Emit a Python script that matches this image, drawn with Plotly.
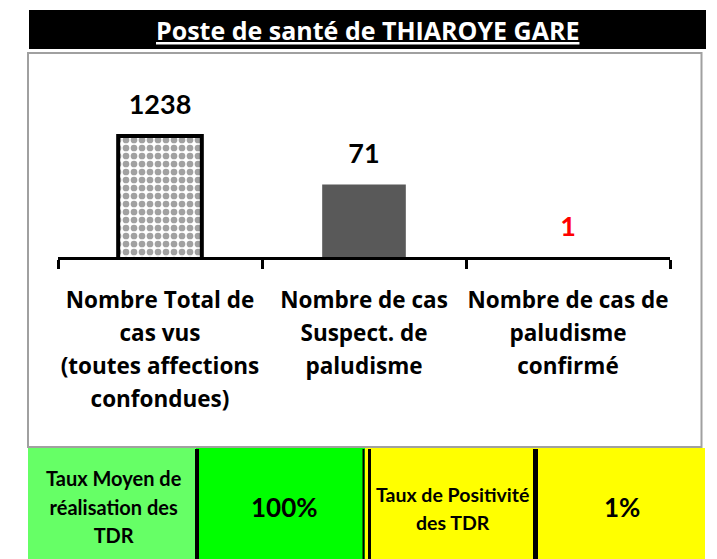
import plotly.graph_objects as go

W, H = 717, 559
FONT = "Open Sans"
FONT2 = "Lato"

# ---- data ----
title_text = "Poste de santé de THIAROYE GARE"
category_keys = ["total", "suspect", "confirme"]
category_lines = [
    ["Nombre Total de", "cas vus", "(toutes affections", "confondues)"],
    ["Nombre de cas", "Suspect. de", "paludisme"],
    ["Nombre de cas de", "paludisme", "confirmé"],
]
values = [1238, 71, 1]
value_colors = ["black", "black", "red"]
bar_colors = ["white", "#595959", "#595959"]
bar_patterns = [".", "", ""]
bar_line_widths = [4, 0, 0]

rate_labels = [["Taux Moyen de", "réalisation des", "TDR"], ["Taux de Positivité", "des TDR"]]
rate_values = ["100%", "1%"]


def px(x):
    return x / W


def py(y):
    return 1 - y / H


def spaced(lines, inner):
    return "<br>".join(f'<span style="font-size:{inner}px">{l}</span>' for l in lines)


ticktext = [spaced(lines, 22.5) for lines in category_lines]

fig = go.Figure()
fig.add_trace(go.Bar(
    x=category_keys, y=values, width=0.41,
    marker=dict(color=bar_colors,
                line=dict(color="black", width=bar_line_widths),
                pattern=dict(shape=bar_patterns, fgcolor="black", bgcolor="white",
                             size=8, solidity=0.55)),
    hoverinfo="skip",
))
fig.add_trace(go.Scatter(
    x=category_keys, y=values, mode="markers+text",
    text=[str(v) for v in values], textposition="top center",
    marker=dict(size=22, opacity=0),
    textfont=dict(family=FONT2, size=27, color=value_colors, weight="bold"),
    cliponaxis=False, hoverinfo="skip",
))

shapes = []
# title bar
shapes.append(dict(type="rect", xref="paper", yref="paper", x0=px(29), x1=px(706),
                   y0=py(49), y1=py(10), fillcolor="black", line=dict(width=0), layer="below"))
# plot box
shapes.append(dict(type="rect", xref="paper", yref="paper", x0=px(28), x1=px(701.5),
                   y0=py(447), y1=py(53), fillcolor="rgba(0,0,0,0)",
                   line=dict(color="#a0a0a0", width=2)))
# table cells
cells = [(28, 196, "#66FF66"), (196, 365, "#00FF00"), (365, 535, "#FFFF00"), (535, 705, "#FFFF00")]
for x0, x1, c in cells:
    shapes.append(dict(type="rect", xref="paper", yref="paper", x0=px(x0), x1=px(x1),
                       y0=py(559), y1=py(448), fillcolor=c, line=dict(width=0), layer="below"))
for xl, w in [(197, 4), (363.5, 2), (369.5, 3), (535.5, 5)]:
    shapes.append(dict(type="line", xref="paper", yref="paper", x0=px(xl), x1=px(xl),
                       y0=py(559), y1=py(449), line=dict(color="black", width=w)))


def ann(text, x, y, size, color="black", family=FONT2):
    return dict(text=text, xref="paper", yref="paper", x=px(x), y=py(y),
                xanchor="center", yanchor="middle", align="center", showarrow=False,
                font=dict(family=family, size=size, color=color))


annotations = [
    ann(f"<b><u>{title_text}</u></b>", 367.5, 30, 25, "white", FONT),
    ann("<b>" + spaced(rate_labels[0], 20) + "</b>", 114, 507, 22),
    ann(f"<b>{rate_values[0]}</b>", 284, 507, 26),
    ann("<b>" + spaced(rate_labels[1], 19.5) + "</b>", 452, 508, 21.5),
    ann(f"<b>{rate_values[1]}</b>", 622, 507, 26),
]

fig.update_layout(
    width=W, height=H,
    margin=dict(l=0, r=0, t=0, b=0, autoexpand=False),
    paper_bgcolor="white", plot_bgcolor="rgba(0,0,0,0)",
    showlegend=False,
    shapes=shapes, annotations=annotations,
    xaxis=dict(domain=[px(58), px(670)], type="category",
               tickvals=category_keys, ticktext=ticktext,
               showline=True, linecolor="black", linewidth=3,
               ticks="outside", tickson="boundaries", ticklen=9, tickwidth=3, tickcolor="black",
               tickfont=dict(family=FONT, size=25.5, color="black", weight="bold"),
               tickangle=0, automargin=False, ticklabelstandoff=17,
               showgrid=False, zeroline=False, fixedrange=True),
    yaxis=dict(domain=[py(257), py(120)], type="log", range=[0, 3.5], automargin=False,
               visible=False, showgrid=False, zeroline=False, fixedrange=True),
)

fig.write_html("out.html", config={"displayModeBar": False},
               post_script="document.body.style.margin='0';document.body.style.padding='0';")
